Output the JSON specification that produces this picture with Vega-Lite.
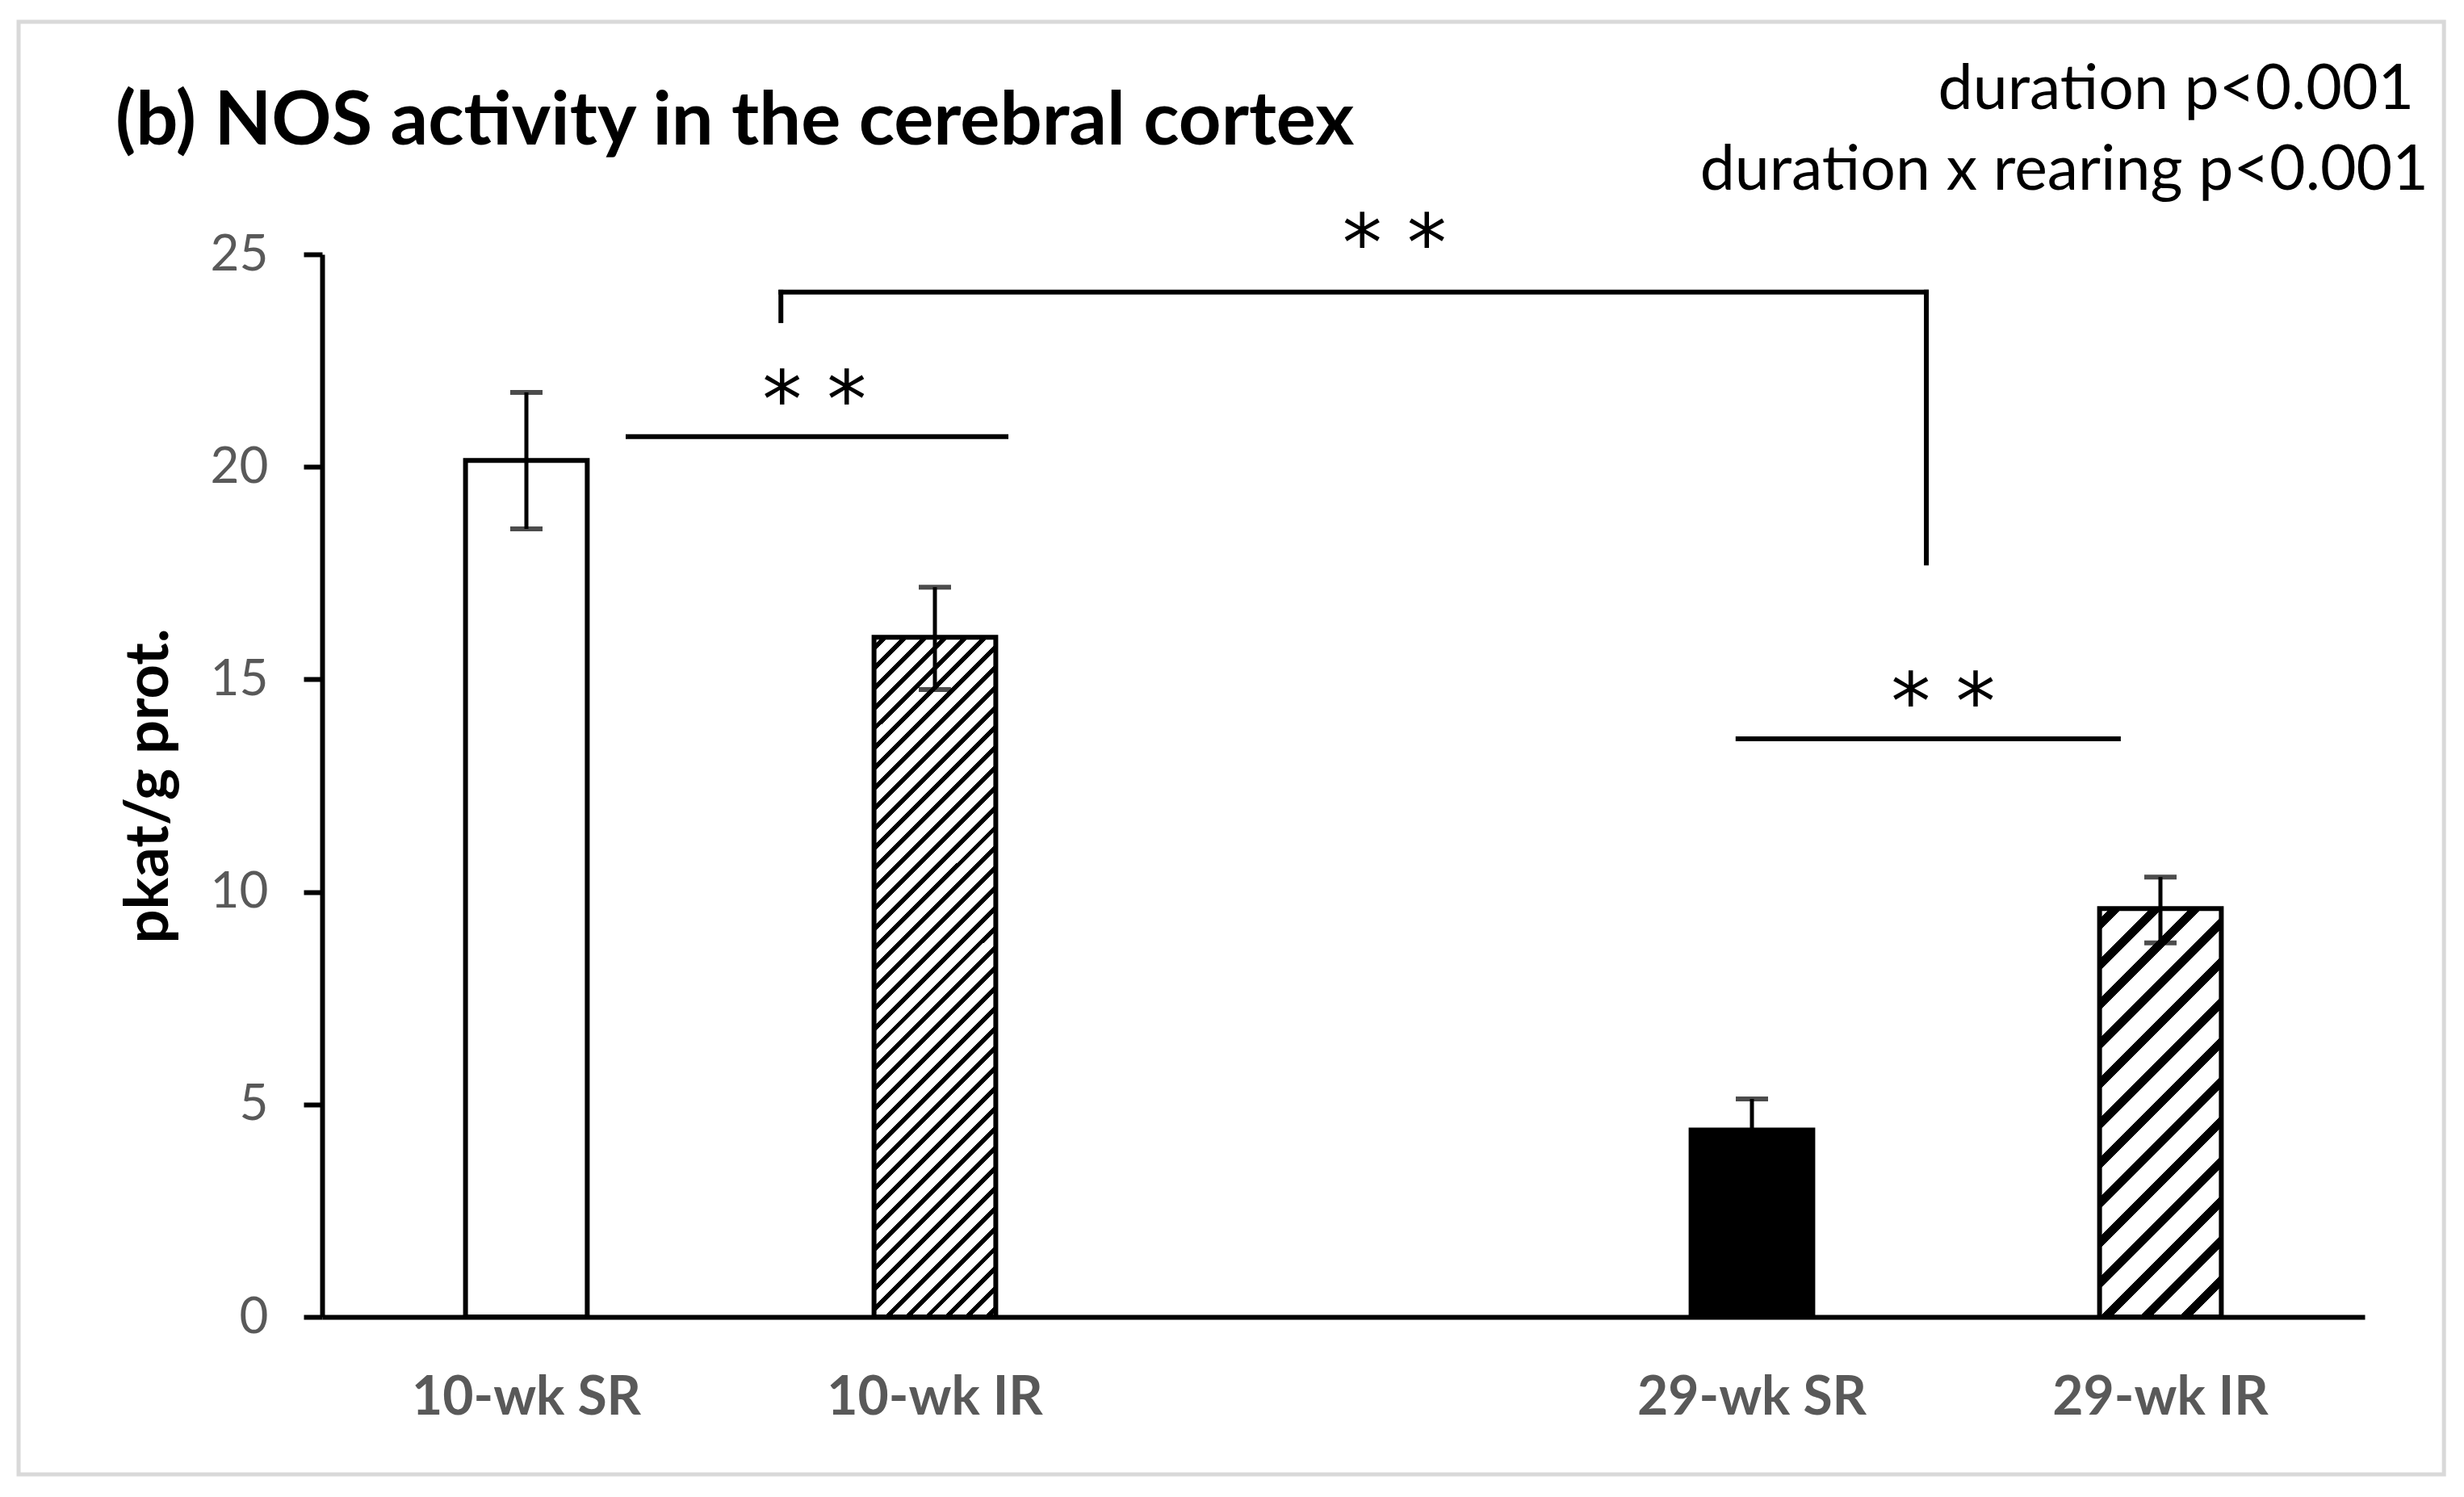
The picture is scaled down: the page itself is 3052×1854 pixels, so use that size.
{
  "$schema": "https://vega.github.io/schema/vega-lite/v6.json",
  "width": 2530,
  "height": 1316,
  "autosize": {"type": "none"},
  "padding": {"left": 399, "top": 315, "right": 123, "bottom": 223},
  "background": "white",
  "config": {
    "view": {"stroke": null},
    "font": "Lato",
    "axisY": {
      "tickCount": 5,
      "grid": false,
      "domainColor": "black",
      "domainWidth": 6,
      "tickColor": "black",
      "tickWidth": 6,
      "tickSize": 23,
      "labelFont": "Lato",
      "labelFontSize": 62,
      "labelColor": "#595959",
      "labelPadding": 44,
      "titleFont": "Lato",
      "titleFontSize": 74,
      "titleFontWeight": "bold",
      "titleColor": "black",
      "titlePadding": 37
    }
  },
  "title": {
    "text": "(b) NOS activity in the cerebral cortex",
    "anchor": "start",
    "frame": "group",
    "font": "Lato",
    "fontSize": 92,
    "fontWeight": "bold",
    "color": "black",
    "baseline": "alphabetic",
    "offset": 0,
    "dx": -256,
    "dy": 246
  },
  "datasets": {
    "bars": [
      {"group": "10-wk SR", "mean": 20.15, "lo": 18.54, "hi": 21.75},
      {"group": "10-wk IR", "mean": 15.99, "lo": 14.76, "hi": 17.17},
      {"group": "29-wk SR", "mean": 4.4, "lo": 3.65, "hi": 5.13},
      {"group": "29-wk IR", "mean": 9.61, "lo": 8.8, "hi": 10.35}
    ],
    "lines": [
      {"xa": 0.749, "xb": 1.674, "ya": 20.71, "yb": 20.71},
      {"xa": 1.123, "xb": 1.123, "ya": 23.44, "yb": 24.11},
      {"xa": 1.123, "xb": 3.927, "ya": 24.11, "yb": 24.11},
      {"xa": 3.927, "xb": 3.927, "ya": 24.11, "yb": 17.74},
      {"xa": 3.466, "xb": 4.397, "ya": 13.6, "yb": 13.6}
    ],
    "stars": [
      {"x": 1.205, "y": 21.92, "t": "* *"},
      {"x": 2.625, "y": 25.61, "t": "* *"},
      {"x": 3.968, "y": 14.82, "t": "* *"}
    ],
    "notes": [
      {"x": 5.121, "y": 28.42, "t": "duration p<0.001"},
      {"x": 5.156, "y": 26.52, "t": "duration x rearing p<0.001"}
    ]
  },
  "layer": [
    {
      "data": {"name": "bars"},
      "encoding": {
        "x": {
          "field": "group",
          "type": "nominal",
          "sort": null,
          "scale": {"domain": ["10-wk SR", "10-wk IR", " ", "29-wk SR", "29-wk IR"], "paddingInner": 0, "paddingOuter": 0},
          "axis": {
            "title": null,
            "ticks": false,
            "tickSize": 0,
            "domainColor": "black",
            "domainWidth": 6,
            "labelFont": "Lato",
            "labelFontSize": 66,
            "labelFontWeight": "bold",
            "labelColor": "#595959",
            "labelPadding": 68,
            "labelAngle": 0,
            "labelLimit": 2000
          }
        },
        "y": {
          "field": "mean",
          "type": "quantitative",
          "title": "pkat/g prot.",
          "scale": {"domain": [0, 25], "nice": false}
        }
      },
      "layer": [
        {
          "transform": [{"filter": "datum.group === '10-wk SR'"}],
          "mark": {"type": "bar", "fill": "white", "stroke": "black", "strokeWidth": 6, "strokeJoin": "miter", "width": {"band": 0.298}}
        },
        {
          "transform": [{"filter": "datum.group === '29-wk SR'"}],
          "mark": {"type": "bar", "fill": "black", "stroke": "black", "strokeWidth": 6, "strokeJoin": "miter", "width": {"band": 0.298}}
        },
        {
          "transform": [{"filter": "datum.group === '10-wk IR'"}],
          "mark": {
            "type": "bar", "stroke": "black", "strokeWidth": 6, "strokeJoin": "miter", "width": {"band": 0.298},
            "fill": {
              "gradient": "linear", "x1": 0, "y1": 0, "x2": 0.2046, "y2": 1.1424,
              "stops": [
                {"offset": 0, "color": "#fff"},
                {"offset": 0.010, "color": "#fff"}, {"offset": 0.010, "color": "#000"}, {"offset": 0.018, "color": "#000"}, {"offset": 0.018, "color": "#fff"},
                {"offset": 0.035, "color": "#fff"}, {"offset": 0.035, "color": "#000"}, {"offset": 0.043, "color": "#000"}, {"offset": 0.043, "color": "#fff"},
                {"offset": 0.060, "color": "#fff"}, {"offset": 0.060, "color": "#000"}, {"offset": 0.068, "color": "#000"}, {"offset": 0.068, "color": "#fff"},
                {"offset": 0.085, "color": "#fff"}, {"offset": 0.085, "color": "#000"}, {"offset": 0.093, "color": "#000"}, {"offset": 0.093, "color": "#fff"},
                {"offset": 0.110, "color": "#fff"}, {"offset": 0.110, "color": "#000"}, {"offset": 0.118, "color": "#000"}, {"offset": 0.118, "color": "#fff"},
                {"offset": 0.135, "color": "#fff"}, {"offset": 0.135, "color": "#000"}, {"offset": 0.143, "color": "#000"}, {"offset": 0.143, "color": "#fff"},
                {"offset": 0.160, "color": "#fff"}, {"offset": 0.160, "color": "#000"}, {"offset": 0.168, "color": "#000"}, {"offset": 0.168, "color": "#fff"},
                {"offset": 0.185, "color": "#fff"}, {"offset": 0.185, "color": "#000"}, {"offset": 0.193, "color": "#000"}, {"offset": 0.193, "color": "#fff"},
                {"offset": 0.210, "color": "#fff"}, {"offset": 0.210, "color": "#000"}, {"offset": 0.218, "color": "#000"}, {"offset": 0.218, "color": "#fff"},
                {"offset": 0.235, "color": "#fff"}, {"offset": 0.235, "color": "#000"}, {"offset": 0.243, "color": "#000"}, {"offset": 0.243, "color": "#fff"},
                {"offset": 0.260, "color": "#fff"}, {"offset": 0.260, "color": "#000"}, {"offset": 0.268, "color": "#000"}, {"offset": 0.268, "color": "#fff"},
                {"offset": 0.285, "color": "#fff"}, {"offset": 0.285, "color": "#000"}, {"offset": 0.293, "color": "#000"}, {"offset": 0.293, "color": "#fff"},
                {"offset": 0.310, "color": "#fff"}, {"offset": 0.310, "color": "#000"}, {"offset": 0.318, "color": "#000"}, {"offset": 0.318, "color": "#fff"},
                {"offset": 0.335, "color": "#fff"}, {"offset": 0.335, "color": "#000"}, {"offset": 0.343, "color": "#000"}, {"offset": 0.343, "color": "#fff"},
                {"offset": 0.360, "color": "#fff"}, {"offset": 0.360, "color": "#000"}, {"offset": 0.368, "color": "#000"}, {"offset": 0.368, "color": "#fff"},
                {"offset": 0.385, "color": "#fff"}, {"offset": 0.385, "color": "#000"}, {"offset": 0.393, "color": "#000"}, {"offset": 0.393, "color": "#fff"},
                {"offset": 0.410, "color": "#fff"}, {"offset": 0.410, "color": "#000"}, {"offset": 0.418, "color": "#000"}, {"offset": 0.418, "color": "#fff"},
                {"offset": 0.435, "color": "#fff"}, {"offset": 0.435, "color": "#000"}, {"offset": 0.443, "color": "#000"}, {"offset": 0.443, "color": "#fff"},
                {"offset": 0.460, "color": "#fff"}, {"offset": 0.460, "color": "#000"}, {"offset": 0.468, "color": "#000"}, {"offset": 0.468, "color": "#fff"},
                {"offset": 0.485, "color": "#fff"}, {"offset": 0.485, "color": "#000"}, {"offset": 0.493, "color": "#000"}, {"offset": 0.493, "color": "#fff"},
                {"offset": 0.510, "color": "#fff"}, {"offset": 0.510, "color": "#000"}, {"offset": 0.518, "color": "#000"}, {"offset": 0.518, "color": "#fff"},
                {"offset": 0.535, "color": "#fff"}, {"offset": 0.535, "color": "#000"}, {"offset": 0.543, "color": "#000"}, {"offset": 0.543, "color": "#fff"},
                {"offset": 0.560, "color": "#fff"}, {"offset": 0.560, "color": "#000"}, {"offset": 0.568, "color": "#000"}, {"offset": 0.568, "color": "#fff"},
                {"offset": 0.585, "color": "#fff"}, {"offset": 0.585, "color": "#000"}, {"offset": 0.593, "color": "#000"}, {"offset": 0.593, "color": "#fff"},
                {"offset": 0.610, "color": "#fff"}, {"offset": 0.610, "color": "#000"}, {"offset": 0.618, "color": "#000"}, {"offset": 0.618, "color": "#fff"},
                {"offset": 0.635, "color": "#fff"}, {"offset": 0.635, "color": "#000"}, {"offset": 0.643, "color": "#000"}, {"offset": 0.643, "color": "#fff"},
                {"offset": 0.660, "color": "#fff"}, {"offset": 0.660, "color": "#000"}, {"offset": 0.668, "color": "#000"}, {"offset": 0.668, "color": "#fff"},
                {"offset": 0.685, "color": "#fff"}, {"offset": 0.685, "color": "#000"}, {"offset": 0.693, "color": "#000"}, {"offset": 0.693, "color": "#fff"},
                {"offset": 0.710, "color": "#fff"}, {"offset": 0.710, "color": "#000"}, {"offset": 0.718, "color": "#000"}, {"offset": 0.718, "color": "#fff"},
                {"offset": 0.735, "color": "#fff"}, {"offset": 0.735, "color": "#000"}, {"offset": 0.743, "color": "#000"}, {"offset": 0.743, "color": "#fff"},
                {"offset": 0.760, "color": "#fff"}, {"offset": 0.760, "color": "#000"}, {"offset": 0.768, "color": "#000"}, {"offset": 0.768, "color": "#fff"},
                {"offset": 0.785, "color": "#fff"}, {"offset": 0.785, "color": "#000"}, {"offset": 0.793, "color": "#000"}, {"offset": 0.793, "color": "#fff"},
                {"offset": 0.810, "color": "#fff"}, {"offset": 0.810, "color": "#000"}, {"offset": 0.818, "color": "#000"}, {"offset": 0.818, "color": "#fff"},
                {"offset": 0.835, "color": "#fff"}, {"offset": 0.835, "color": "#000"}, {"offset": 0.843, "color": "#000"}, {"offset": 0.843, "color": "#fff"},
                {"offset": 0.860, "color": "#fff"}, {"offset": 0.860, "color": "#000"}, {"offset": 0.868, "color": "#000"}, {"offset": 0.868, "color": "#fff"},
                {"offset": 0.885, "color": "#fff"}, {"offset": 0.885, "color": "#000"}, {"offset": 0.893, "color": "#000"}, {"offset": 0.893, "color": "#fff"},
                {"offset": 0.910, "color": "#fff"}, {"offset": 0.910, "color": "#000"}, {"offset": 0.918, "color": "#000"}, {"offset": 0.918, "color": "#fff"},
                {"offset": 0.935, "color": "#fff"}, {"offset": 0.935, "color": "#000"}, {"offset": 0.943, "color": "#000"}, {"offset": 0.943, "color": "#fff"},
                {"offset": 0.960, "color": "#fff"}, {"offset": 0.960, "color": "#000"}, {"offset": 0.968, "color": "#000"}, {"offset": 0.968, "color": "#fff"},
                {"offset": 0.985, "color": "#fff"}, {"offset": 0.985, "color": "#000"}, {"offset": 0.993, "color": "#000"}, {"offset": 0.993, "color": "#fff"},
                {"offset": 1, "color": "#fff"}
              ]
            }
          }
        },
        {
          "transform": [{"filter": "datum.group === '29-wk IR'"}],
          "mark": {
            "type": "bar", "stroke": "black", "strokeWidth": 6, "strokeJoin": "miter", "width": {"band": 0.298},
            "fill": {
              "gradient": "linear", "x1": 0, "y1": 0, "x2": 0.3553, "y2": 1.1921,
              "stops": [
                {"offset": 0, "color": "#fff"},
                {"offset": 0.020, "color": "#fff"}, {"offset": 0.020, "color": "#000"}, {"offset": 0.043, "color": "#000"}, {"offset": 0.043, "color": "#fff"},
                {"offset": 0.095, "color": "#fff"}, {"offset": 0.095, "color": "#000"}, {"offset": 0.118, "color": "#000"}, {"offset": 0.118, "color": "#fff"},
                {"offset": 0.170, "color": "#fff"}, {"offset": 0.170, "color": "#000"}, {"offset": 0.193, "color": "#000"}, {"offset": 0.193, "color": "#fff"},
                {"offset": 0.245, "color": "#fff"}, {"offset": 0.245, "color": "#000"}, {"offset": 0.268, "color": "#000"}, {"offset": 0.268, "color": "#fff"},
                {"offset": 0.320, "color": "#fff"}, {"offset": 0.320, "color": "#000"}, {"offset": 0.343, "color": "#000"}, {"offset": 0.343, "color": "#fff"},
                {"offset": 0.395, "color": "#fff"}, {"offset": 0.395, "color": "#000"}, {"offset": 0.418, "color": "#000"}, {"offset": 0.418, "color": "#fff"},
                {"offset": 0.470, "color": "#fff"}, {"offset": 0.470, "color": "#000"}, {"offset": 0.493, "color": "#000"}, {"offset": 0.493, "color": "#fff"},
                {"offset": 0.545, "color": "#fff"}, {"offset": 0.545, "color": "#000"}, {"offset": 0.568, "color": "#000"}, {"offset": 0.568, "color": "#fff"},
                {"offset": 0.620, "color": "#fff"}, {"offset": 0.620, "color": "#000"}, {"offset": 0.643, "color": "#000"}, {"offset": 0.643, "color": "#fff"},
                {"offset": 0.695, "color": "#fff"}, {"offset": 0.695, "color": "#000"}, {"offset": 0.718, "color": "#000"}, {"offset": 0.718, "color": "#fff"},
                {"offset": 0.770, "color": "#fff"}, {"offset": 0.770, "color": "#000"}, {"offset": 0.793, "color": "#000"}, {"offset": 0.793, "color": "#fff"},
                {"offset": 0.845, "color": "#fff"}, {"offset": 0.845, "color": "#000"}, {"offset": 0.868, "color": "#000"}, {"offset": 0.868, "color": "#fff"},
                {"offset": 0.920, "color": "#fff"}, {"offset": 0.920, "color": "#000"}, {"offset": 0.943, "color": "#000"}, {"offset": 0.943, "color": "#fff"},
                {"offset": 1, "color": "#fff"}
              ]
            }
          }
        },
        {
          "mark": {"type": "rule", "color": "black", "strokeWidth": 5},
          "encoding": {
            "y": {"field": "lo", "type": "quantitative", "title": "pkat/g prot.", "scale": {"domain": [0, 25], "nice": false}},
            "y2": {"field": "hi"}
          }
        },
        {
          "mark": {"type": "tick", "color": "black", "size": 40, "thickness": 6},
          "encoding": {
            "y": {"field": "lo", "type": "quantitative", "title": "pkat/g prot.", "scale": {"domain": [0, 25], "nice": false}}
          }
        },
        {
          "mark": {"type": "tick", "color": "black", "size": 40, "thickness": 6},
          "encoding": {
            "y": {"field": "hi", "type": "quantitative", "title": "pkat/g prot.", "scale": {"domain": [0, 25], "nice": false}}
          }
        }
      ]
    },
    {
      "layer": [
        {
          "data": {"values": [{}]},
          "mark": {"type": "rect", "fill": null, "stroke": "#d9d9d9", "strokeWidth": 5},
          "encoding": {
            "x": {"datum": -0.743, "type": "quantitative", "scale": {"domain": [0, 5], "nice": false, "zero": false}, "axis": null},
            "x2": {"datum": 5.194},
            "y": {"datum": 30.47, "type": "quantitative", "title": "pkat/g prot.", "scale": {"domain": [0, 25], "nice": false}},
            "y2": {"datum": -3.704}
          }
        },
        {
          "data": {"name": "lines"},
          "mark": {"type": "rule", "color": "black", "strokeWidth": 6, "strokeCap": "square"},
          "encoding": {
            "x": {"field": "xa", "type": "quantitative", "scale": {"domain": [0, 5], "nice": false, "zero": false}, "axis": null},
            "x2": {"field": "xb"},
            "y": {"field": "ya", "type": "quantitative", "title": "pkat/g prot.", "scale": {"domain": [0, 25], "nice": false}},
            "y2": {"field": "yb"}
          }
        },
        {
          "data": {"name": "stars"},
          "mark": {"type": "text", "font": "DejaVu Sans", "fontSize": 98, "color": "black", "align": "center", "baseline": "alphabetic", "dy": 52},
          "encoding": {
            "x": {"field": "x", "type": "quantitative", "scale": {"domain": [0, 5], "nice": false, "zero": false}, "axis": null},
            "y": {"field": "y", "type": "quantitative", "title": "pkat/g prot.", "scale": {"domain": [0, 25], "nice": false}},
            "text": {"field": "t"}
          }
        },
        {
          "data": {"name": "notes"},
          "mark": {"type": "text", "font": "Lato", "fontSize": 77, "color": "black", "align": "right", "baseline": "alphabetic"},
          "encoding": {
            "x": {"field": "x", "type": "quantitative", "scale": {"domain": [0, 5], "nice": false, "zero": false}, "axis": null},
            "y": {"field": "y", "type": "quantitative", "title": "pkat/g prot.", "scale": {"domain": [0, 25], "nice": false}},
            "text": {"field": "t"}
          }
        }
      ]
    }
  ],
  "resolve": {"scale": {"x": "independent"}}
}
